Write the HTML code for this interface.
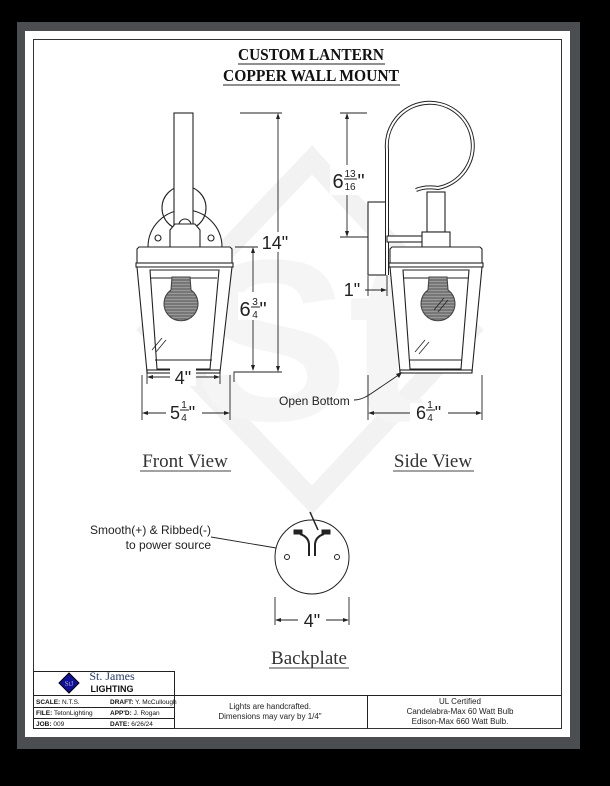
<!DOCTYPE html>
<html><head><meta charset="utf-8"><style>
html,body{margin:0;padding:0;background:#000;}
svg{display:block;}
</style></head><body>
<svg width="610" height="786" viewBox="0 0 610 786" xmlns="http://www.w3.org/2000/svg" font-family="Liberation Sans, sans-serif">
<defs>
<pattern id="h" width="3" height="3" patternUnits="userSpaceOnUse"><rect width="3" height="3" fill="#999"/><line x1="0" y1="1" x2="3" y2="1" stroke="#555" stroke-width="1"/></pattern>
</defs>
<rect x="0" y="0" width="610" height="786" fill="#000"/>
<rect x="17" y="22" width="563" height="727" fill="#4b4e51"/>
<rect x="25" y="31" width="545" height="706" fill="#fff"/>
<rect x="33.5" y="39.5" width="528" height="689" fill="none" stroke="#333" stroke-width="1"/>

<!-- watermark -->
<g fill="none" stroke="#f2f2f2" stroke-width="20">
<polygon points="312,160 470,330 312,500 150,330"/>
</g>
<text x="310" y="420" font-size="230" font-weight="bold" fill="#f5f5f5" text-anchor="middle">St</text>

<!-- title -->
<g font-family="Liberation Serif, serif" font-weight="bold" font-size="17" text-anchor="middle" fill="#111">
<text x="311" y="60" textLength="146" lengthAdjust="spacingAndGlyphs">CUSTOM LANTERN</text>
<text x="311" y="81" textLength="176" lengthAdjust="spacingAndGlyphs">COPPER WALL MOUNT</text>
</g>
<line x1="238" y1="64" x2="385" y2="64" stroke="#222" stroke-width="1"/>
<line x1="223" y1="85" x2="400" y2="85" stroke="#222" stroke-width="1"/>

<g stroke="#222" stroke-width="1.1" fill="#fff">
<!-- FRONT VIEW -->
<path d="M148,247 A37,37 0 0 1 222,247 Z"/>
<circle cx="158" cy="238" r="3"/><circle cx="211" cy="238" r="3"/>
<circle cx="184" cy="208" r="22" fill="none"/>
<rect x="174" y="113" width="19" height="115"/>
<circle cx="185" cy="225" r="6"/>
<polygon points="170,230 175,224 195,224 200,230 200,247 170,247"/>
<polygon points="137,249 139,247 230,247 232,249 232,263 137,263"/>
<rect x="136" y="263" width="97" height="4"/>
<polygon points="137,267 232,267 220,372 147,372"/>
<polygon points="150,270 219,270 210,369 157,369" fill="none"/>
<line x1="150" y1="278" x2="217" y2="278"/>
<line x1="155" y1="360" x2="212" y2="360"/>
<path d="M172,277 L190,277 L191,290 A17,17 0 1 1 171,290 Z" fill="url(#h)" stroke="#444"/>
<line x1="162" y1="338" x2="152" y2="350" stroke-width="0.8"/>
<line x1="166" y1="340" x2="156" y2="352" stroke-width="0.8"/>
<rect x="147" y="370" width="73" height="3" fill="#fff"/>

<!-- SIDE VIEW -->
<rect x="368" y="202" width="19" height="73"/>
<path d="M387,275 L387,150 A43,43 0 1 1 438,188 Q425,186 416,190" fill="none" stroke-width="4" stroke="#222"/>
<path d="M387,275 L387,150 A43,43 0 1 1 438,188 Q425,186 416,190" fill="none" stroke-width="2" stroke="#fff"/>
<rect x="387" y="236" width="40" height="6"/>
<rect x="427" y="192" width="18" height="40"/>
<rect x="422" y="232" width="28" height="15"/>
<polygon points="390,249 392,247 480,247 482,249 482,263 390,263"/>
<rect x="389" y="263" width="94" height="4"/>
<polygon points="390,267 482,267 472,372 400,372"/>
<polygon points="403,270 469,270 461,369 410,369" fill="none"/>
<line x1="403" y1="278" x2="468" y2="278"/>
<line x1="409" y1="360" x2="462" y2="360"/>
<path d="M429,277 L447,277 L448,290 A17,17 0 1 1 428,290 Z" fill="url(#h)" stroke="#444"/>
<line x1="444" y1="298" x2="434" y2="310" stroke-width="0.8"/>
<line x1="448" y1="300" x2="438" y2="312" stroke-width="0.8"/>
<line x1="425" y1="340" x2="415" y2="352" stroke-width="0.8"/>
<line x1="429" y1="342" x2="419" y2="354" stroke-width="0.8"/>
<rect x="400" y="370" width="72" height="3" fill="#fff"/>
</g>

<!-- dimensions -->
<g stroke="#222" stroke-width="0.9" fill="none">
<line x1="147" y1="373" x2="147" y2="384"/><line x1="220" y1="373" x2="220" y2="384"/>
<line x1="149" y1="377" x2="218" y2="377"/>
<line x1="142" y1="375" x2="142" y2="420"/><line x1="230" y1="375" x2="230" y2="420"/>
<line x1="144" y1="413" x2="228" y2="413"/>
<line x1="240" y1="113" x2="282" y2="113"/>
<line x1="278" y1="115" x2="278" y2="370"/>
<polyline points="234,382 234,372 282,372"/>
<line x1="235" y1="247" x2="262" y2="247"/>
<line x1="253" y1="249" x2="253" y2="369"/>
<line x1="340" y1="113" x2="367" y2="113"/>
<line x1="347" y1="115" x2="347" y2="235"/>
<line x1="340" y1="237" x2="368" y2="237"/>
<line x1="368" y1="276" x2="368" y2="296"/><line x1="387" y1="276" x2="387" y2="296"/>
<line x1="365" y1="290" x2="385" y2="290"/>
<line x1="368" y1="375" x2="368" y2="420"/><line x1="482" y1="375" x2="482" y2="420"/>
<line x1="370" y1="413" x2="480" y2="413"/>
<path d="M354,400 Q362,400 372,393 L400,374"/>
<line x1="275" y1="597" x2="275" y2="625"/><line x1="349" y1="597" x2="349" y2="625"/>
<line x1="277" y1="620" x2="347" y2="620"/>
<line x1="211" y1="537" x2="300" y2="552"/>
</g>
<g fill="#222">
<polygon points="147,377 153,375 153,379"/><polygon points="220,377 214,375 214,379"/>
<polygon points="142,413 148,411 148,415"/><polygon points="230,413 224,411 224,415"/>
<polygon points="278,113 276,119 280,119"/><polygon points="278,372 276,366 280,366"/>
<polygon points="253,247 251,253 255,253"/><polygon points="253,371 251,365 255,365"/>
<polygon points="347,113 345,119 349,119"/><polygon points="347,237 345,231 349,231"/>
<polygon points="387,290 381,288 381,292"/>
<polygon points="368,413 374,411 374,415"/><polygon points="482,413 476,411 476,415"/>
<polygon points="402,372 396,374 399,378"/>
<polygon points="275,620 281,618 281,622"/><polygon points="349,620 343,618 343,622"/>
<polygon points="305,554 296,548 295,555"/>
</g>
<!-- dim text -->
<g fill="#222" font-size="18" text-anchor="middle">
<rect x="170" y="368" width="26" height="18" fill="#fff"/>
<text x="183" y="384">4"</text>
<rect x="166" y="403" width="36" height="20" fill="#fff"/>
<text x="175" y="419">5</text><text x="184" y="408" font-size="10">1</text><line x1="180" y1="410" x2="189" y2="410" stroke="#222"/><text x="184" y="421" font-size="10">4</text><text x="192" y="419">"</text>
<rect x="258" y="232" width="34" height="20" fill="#fff"/>
<text x="275" y="249">14"</text>
<rect x="238" y="292" width="30" height="28" fill="#fff"/>
<text x="245" y="316" font-size="20">6</text><text x="255" y="305" font-size="10">3</text><line x1="251" y1="307" x2="260" y2="307" stroke="#222"/><text x="255" y="318" font-size="10">4</text><text x="263" y="316" font-size="20">"</text>
<rect x="330" y="165" width="36" height="30" fill="#fff"/>
<text x="338" y="188" font-size="20">6</text><text x="350" y="177" font-size="10">13</text><line x1="344" y1="179" x2="357" y2="179" stroke="#222"/><text x="350" y="190" font-size="10">16</text><text x="361" y="188" font-size="20">"</text>
<text x="352" y="296">1"</text>
<rect x="410" y="403" width="38" height="20" fill="#fff"/>
<text x="421" y="419">6</text><text x="430" y="408" font-size="10">1</text><line x1="426" y1="410" x2="435" y2="410" stroke="#222"/><text x="430" y="421" font-size="10">4</text><text x="438" y="419">"</text>
<rect x="298" y="612" width="28" height="18" fill="#fff"/>
<text x="312" y="627">4"</text>
</g>
<text x="279" y="405" font-size="12" fill="#222">Open Bottom</text>
<text x="211" y="534" font-size="12" fill="#222" text-anchor="end">Smooth(+) &amp; Ribbed(-)</text>
<text x="211" y="549" font-size="12" fill="#222" text-anchor="end">to power source</text>

<!-- backplate -->
<g stroke="#222" stroke-width="1" fill="#fff">
<circle cx="312" cy="557" r="37"/>
<circle cx="287" cy="557" r="2.5"/><circle cx="337" cy="557" r="2.5"/>
<path d="M309,556 L309,545 Q309,537 300,534 M315,556 L315,545 Q315,537 324,534" fill="none" stroke-width="2"/>
<line x1="310" y1="512" x2="318" y2="530" stroke-width="1.5"/>
<rect x="294" y="530" width="8" height="4" fill="#222"/><rect x="322" y="530" width="8" height="4" fill="#222"/>
</g>

<!-- view labels -->
<g font-family="Liberation Serif, serif" font-size="19" fill="#333" text-anchor="middle">
<text x="185" y="467">Front View</text>
<text x="433" y="467">Side View</text>
<text x="309" y="664">Backplate</text>
</g>
<g stroke="#444" stroke-width="1">
<line x1="140" y1="471" x2="231" y2="471"/>
<line x1="393" y1="471" x2="474" y2="471"/>
<line x1="269" y1="668" x2="349" y2="668"/>
</g>

<!-- title block -->
<g stroke="#222" stroke-width="1" fill="none">
<rect x="33.5" y="671.5" width="141" height="57"/>
<line x1="33.5" y1="695.5" x2="561.5" y2="695.5"/>
<line x1="33.5" y1="707.5" x2="174.5" y2="707.5"/>
<line x1="33.5" y1="718.5" x2="174.5" y2="718.5"/>
<line x1="367.5" y1="695.5" x2="367.5" y2="728.5"/>
</g>
<polygon points="69,673 79,683 69,693 59,683" fill="#10109a" stroke="#000"/>
<text x="69" y="686" font-size="7" fill="#aab" text-anchor="middle" font-family="Liberation Serif, serif">StJ</text>
<text x="112" y="680" font-size="12" fill="#2a3a6a" text-anchor="middle" font-family="Liberation Serif, serif">St. James</text>
<text x="112" y="692" font-size="9" font-weight="bold" fill="#111" text-anchor="middle">LIGHTING</text>
<g font-size="6.5" fill="#111">
<text x="36" y="704"><tspan font-weight="bold">SCALE:</tspan> N.T.S.</text>
<text x="110" y="704"><tspan font-weight="bold">DRAFT:</tspan> Y. McCullough</text>
<text x="36" y="715"><tspan font-weight="bold">FILE:</tspan>  TetonLighting</text>
<text x="110" y="715"><tspan font-weight="bold">APP'D:</tspan> J. Rogan</text>
<text x="36" y="726"><tspan font-weight="bold">JOB:</tspan>   009</text>
<text x="110" y="726"><tspan font-weight="bold">DATE:</tspan>  6/26/24</text>
</g>
<g font-size="8" fill="#222" text-anchor="middle">
<text x="270" y="709">Lights are handcrafted.</text>
<text x="270" y="719">Dimensions may vary by 1/4"</text>
<text x="460" y="704">UL Certified</text>
<text x="460" y="714">Candelabra-Max 60 Watt Bulb</text>
<text x="460" y="724">Edison-Max 660 Watt Bulb.</text>
</g>
</svg>
</body></html>
